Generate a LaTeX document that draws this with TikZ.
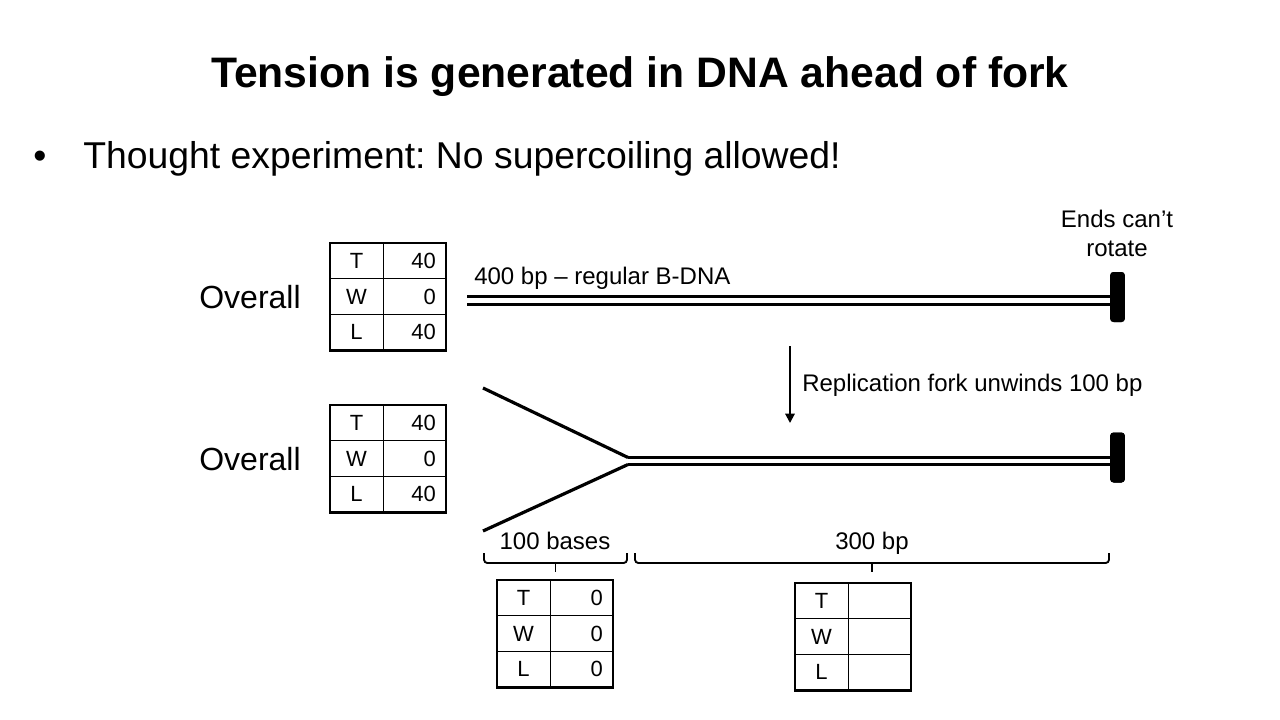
\documentclass[tikz,border=0pt]{standalone}
\usepackage{fontspec}
\setmainfont{Liberation Sans}
\usetikzlibrary{arrows.meta,positioning,fit}
\frenchspacing
\tikzset{
  >=Latex,
  every node/.style={font=\fontsize{18}{21.75}\selectfont,text=black},
  titletext/.style={font=\fontsize{32}{38}\selectfont\bfseries,anchor=base},
  bullettext/.style={font=\fontsize{28}{33}\selectfont,anchor=base west,inner sep=0pt},
  overall/.style={font=\fontsize{24}{28}\selectfont,anchor=base,inner sep=0pt},
  lbl/.style={anchor=base,inner sep=0pt},
  lcell/.style={draw,line width=0.75pt,outer sep=0pt,inner sep=0pt,minimum width=39.75pt,minimum height=26.8pt,font=\fontsize{16.5}{19}\selectfont},
  vcell/.style={lcell,minimum width=47.25pt,text width=32pt,align=right},
  tframe/.style={draw,line width=2.2pt,inner sep=0pt},
  dna/.style={line width=2.25pt,double=white,double distance=3.4pt},
  strand/.style={line width=2.4pt},
  endcap/.style={fill=black,rounded corners=2.5pt,minimum width=11pt,minimum height=37.5pt,inner sep=0pt},
  arrowdn/.style={->,line width=1.5pt,>={Triangle[length=7pt,width=7pt]}},
  brc/.style={line width=1.4pt,rounded corners=2.5pt}
}
\begin{document}
\begin{tikzpicture}[x=0.75pt,y=-0.75pt]
  \useasboundingbox[fill=white] (0,0) rectangle (1280,720);

  \node[titletext] (title) at (640,88) {Tension is generated in DNA ahead of fork};
  \node[bullettext] (dot) at (33,169) {\textbullet};
  \node[bullettext] (thought) at (83,169) {Thought experiment: No supercoiling allowed!};

  % top: intact duplex
  \node[overall] (ov1) at (250,308) {Overall};
  \node[lcell,anchor=north west] (t1a) at (330,243) {T};
  \node[vcell,right=0pt of t1a] (t1b) {40};
  \node[lcell,below=0pt of t1a] (w1a) {W};
  \node[vcell,right=0pt of w1a] (w1b) {0};
  \node[lcell,below=0pt of w1a] (l1a) {L};
  \node[vcell,right=0pt of l1a] (l1b) {40};
  \node[tframe,fit=(t1a)(l1b)] (tab1) {};

  \node[lbl,anchor=base west] (len400) at (474,284) {400 bp -- regular B-DNA};
  \node[align=center] (ends) at (1117,233) {Ends can't\\rotate};
  \node[endcap] (cap1) at (1117.5,297) {};
  \coordinate (top0) at (467,300.5);
  \draw[dna] (top0) -- (top0 -| cap1.center);
  \node[endcap] at (cap1) {};

  % arrow
  \coordinate (arrs) at (790,346);
  \coordinate (arre) at (790,423);
  \draw[arrowdn] (arrs) -- (arre);
  \node[lbl,anchor=base west] (unw) at (802,391) {Replication fork unwinds 100 bp};

  % bottom: fork
  \node[overall] (ov2) at (250,470) {Overall};
  \node[lcell,anchor=north west] (t2a) at (330,405) {T};
  \node[vcell,right=0pt of t2a] (t2b) {40};
  \node[lcell,below=0pt of t2a] (w2a) {W};
  \node[vcell,right=0pt of w2a] (w2b) {0};
  \node[lcell,below=0pt of w2a] (l2a) {L};
  \node[vcell,right=0pt of l2a] (l2b) {40};
  \node[tframe,fit=(t2a)(l2b)] (tab2) {};

  \coordinate (armu) at (483,388);
  \coordinate (arml) at (483,531);
  \coordinate (forku) at (628,457.5);
  \coordinate (forkl) at (628,464.5);
  \coordinate (fork) at (628,461);
  \node[endcap] (cap2) at (1117.5,457.5) {};
  \draw[strand] (armu) -- (forku);
  \draw[strand] (arml) -- (forkl);
  \draw[dna] (fork) -- (fork -| cap2.center);
  \node[endcap] at (cap2) {};

  % braces
  \coordinate (b1s) at (484,553);
  \coordinate (b1e) at (627,553);
  \coordinate (b1m) at (555.5,563);
  \coordinate (b2s) at (635,553);
  \coordinate (b2e) at (1109,553);
  \coordinate (b2m) at (872,563);
  \draw[brc] (b1s) |- (b1m) -| (b1e);
  \draw[line width=1.4pt] (b1m) -- ++(0,9);
  \draw[brc] (b2s) |- (b2m) -| (b2e);
  \draw[line width=1.4pt] (b2m) -- ++(0,9);
  \node[lbl] (bases) at (555,549) {100 bases};
  \node[lbl] (bp300) at (872,549) {300 bp};

  % single strands
  \node[lcell,anchor=north west] (t3a) at (497,580) {T};
  \node[vcell,right=0pt of t3a] (t3b) {0};
  \node[lcell,below=0pt of t3a] (w3a) {W};
  \node[vcell,right=0pt of w3a] (w3b) {0};
  \node[lcell,below=0pt of w3a] (l3a) {L};
  \node[vcell,right=0pt of l3a] (l3b) {0};
  \node[tframe,fit=(t3a)(l3b)] (tab3) {};

  % remaining duplex
  \node[lcell,anchor=north west] (t4a) at (795,583) {T};
  \node[vcell,right=0pt of t4a] (t4b) {};
  \node[lcell,below=0pt of t4a] (w4a) {W};
  \node[vcell,right=0pt of w4a] (w4b) {};
  \node[lcell,below=0pt of w4a] (l4a) {L};
  \node[vcell,right=0pt of l4a] (l4b) {};
  \node[tframe,fit=(t4a)(l4b)] (tab4) {};
\end{tikzpicture}
\end{document}
